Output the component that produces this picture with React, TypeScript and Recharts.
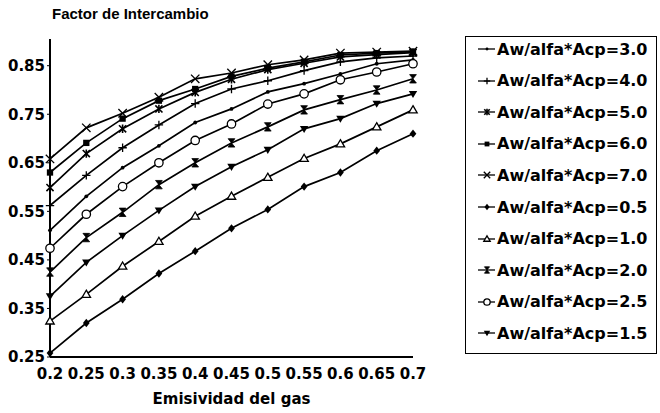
import React from 'react';
import { LineChart, Line, XAxis, YAxis, Legend } from 'recharts';

const emisividad = [0.2, 0.25, 0.3, 0.35, 0.4, 0.45, 0.5, 0.55, 0.6, 0.65, 0.7];
const xTicks = [0.2, 0.25, 0.3, 0.35, 0.4, 0.45, 0.5, 0.55, 0.6, 0.65, 0.7];
const yTicks = [0.25, 0.35, 0.45, 0.55, 0.65, 0.75, 0.85];

const rel30 = [0.511, 0.581, 0.640, 0.685, 0.733, 0.761, 0.796, 0.813, 0.833, 0.854, 0.862];
const rel40 = [0.562, 0.624, 0.681, 0.728, 0.772, 0.802, 0.819, 0.840, 0.858, 0.866, 0.870];
const rel50 = [0.599, 0.669, 0.720, 0.761, 0.795, 0.822, 0.842, 0.855, 0.868, 0.873, 0.877];
const rel60 = [0.630, 0.691, 0.741, 0.778, 0.802, 0.828, 0.845, 0.858, 0.872, 0.876, 0.879];
const rel70 = [0.658, 0.722, 0.752, 0.785, 0.823, 0.835, 0.852, 0.862, 0.876, 0.878, 0.880];
const rel05 = [0.258, 0.320, 0.369, 0.422, 0.468, 0.515, 0.554, 0.601, 0.630, 0.675, 0.710];
const rel10 = [0.324, 0.379, 0.437, 0.488, 0.540, 0.581, 0.620, 0.659, 0.689, 0.724, 0.759];
const rel20 = [0.425, 0.496, 0.548, 0.605, 0.650, 0.691, 0.724, 0.759, 0.780, 0.800, 0.823];
const rel25 = [0.474, 0.544, 0.601, 0.650, 0.696, 0.730, 0.771, 0.792, 0.821, 0.837, 0.854];
const rel15 = [0.375, 0.445, 0.500, 0.552, 0.601, 0.642, 0.677, 0.720, 0.741, 0.772, 0.792];

const seriesNames = [
  'Aw/alfa*Acp=3.0',
  'Aw/alfa*Acp=4.0',
  'Aw/alfa*Acp=5.0',
  'Aw/alfa*Acp=6.0',
  'Aw/alfa*Acp=7.0',
  'Aw/alfa*Acp=0.5',
  'Aw/alfa*Acp=1.0',
  'Aw/alfa*Acp=2.0',
  'Aw/alfa*Acp=2.5',
  'Aw/alfa*Acp=1.5',
];
const seriesValues = [rel30, rel40, rel50, rel60, rel70, rel05, rel10, rel20, rel25, rel15];
const seriesShapes = ['dot', 'plus', 'asterisk', 'square', 'x', 'diamond', 'triangle', 'hourglass', 'circle', 'triangleDown'];
const seriesKeys = ['s30', 's40', 's50', 's60', 's70', 's05', 's10', 's20', 's25', 's15'];

const data = emisividad.map((x, i) => {
  const row: Record<string, number> = { x };
  seriesKeys.forEach((k, j) => {
    row[k] = seriesValues[j][i];
  });
  return row;
});

const FONT = '"DejaVu Sans", "Liberation Sans", Arial, sans-serif';
const TITLE_FONT = '"Liberation Sans", Arial, sans-serif';

function marker(shape: string, cx: number, cy: number, s: number, key?: string) {
  const sw = 1.3;
  switch (shape) {
    case 'dot':
      return <circle key={key} cx={cx} cy={cy} r={s * 0.45} fill="#000" />;
    case 'plus':
      return (
        <g key={key} stroke="#000" strokeWidth={sw}>
          <line x1={cx - s} y1={cy} x2={cx + s} y2={cy} />
          <line x1={cx} y1={cy - s} x2={cx} y2={cy + s} />
        </g>
      );
    case 'asterisk':
      return (
        <g key={key} stroke="#000" strokeWidth={sw + 0.3}>
          <line x1={cx - s * 0.85} y1={cy - s * 0.85} x2={cx + s * 0.85} y2={cy + s * 0.85} />
          <line x1={cx - s * 0.85} y1={cy + s * 0.85} x2={cx + s * 0.85} y2={cy - s * 0.85} />
          <line x1={cx} y1={cy - s} x2={cx} y2={cy + s} />
        </g>
      );
    case 'x':
      return (
        <g key={key} stroke="#000" strokeWidth={sw}>
          <line x1={cx - s} y1={cy - s} x2={cx + s} y2={cy + s} />
          <line x1={cx - s} y1={cy + s} x2={cx + s} y2={cy - s} />
        </g>
      );
    case 'square':
      return <rect key={key} x={cx - s * 0.75} y={cy - s * 0.75} width={s * 1.5} height={s * 1.5} fill="#000" />;
    case 'diamond':
      return (
        <polygon
          key={key}
          points={`${cx},${cy - s} ${cx + s * 0.8},${cy} ${cx},${cy + s} ${cx - s * 0.8},${cy}`}
          fill="#000"
        />
      );
    case 'triangle':
      return (
        <polygon
          key={key}
          points={`${cx},${cy - s} ${cx + s},${cy + s * 0.7} ${cx - s},${cy + s * 0.7}`}
          fill="#fff"
          stroke="#000"
          strokeWidth={sw}
        />
      );
    case 'triangleDown':
      return (
        <polygon
          key={key}
          points={`${cx - s},${cy - s * 0.7} ${cx + s},${cy - s * 0.7} ${cx},${cy + s}`}
          fill="#000"
        />
      );
    case 'hourglass':
      return (
        <polygon
          key={key}
          points={`${cx - s * 0.8},${cy - s} ${cx + s * 0.8},${cy - s} ${cx},${cy} ${cx + s * 0.8},${cy + s} ${cx - s * 0.8},${cy + s} ${cx},${cy}`}
          fill="#000"
          stroke="#000"
          strokeWidth={0.8}
        />
      );
    case 'circle':
      return <circle key={key} cx={cx} cy={cy} r={s} fill="#fff" stroke="#000" strokeWidth={sw} />;
    default:
      return <g key={key} />;
  }
}

function makeDot(shape: string, id: string) {
  return (props: any) => {
    const { cx, cy, index } = props;
    if (cx == null || cy == null) return <g key={`${id}-${index}`} />;
    return marker(shape, cx, cy, 4.2, `${id}-${index}`);
  };
}

const renderLegend = () => (
  <div
    style={{
      position: 'relative',
      width: '100%',
      height: '100%',
      boxSizing: 'border-box',
      border: '1.5px solid #000',
      fontFamily: FONT,
      fontWeight: 'bold',
      fontSize: 16,
      color: '#000',
    }}
  >
    {seriesNames.map((name, i) => (
      <div
        key={name}
        style={{
          position: 'absolute',
          left: 10,
          top: 12 + i * 31.6 - 12,
          height: 24,
          display: 'flex',
          alignItems: 'center',
          whiteSpace: 'nowrap',
        }}
      >
        <svg width={20} height={14} style={{ display: 'block', marginRight: 1 }}>
          <line x1={2} y1={7} x2={19} y2={7} stroke="#000" strokeWidth={1.3} />
          {marker(seriesShapes[i], 11, 7, 3.2)}
        </svg>
        <span>{name}</span>
      </div>
    ))}
  </div>
);

const fmt = (v: number) => String(Number(v.toFixed(2)));

export default function App() {
  const tickStyle = { fill: '#000', fontSize: 15, fontWeight: 'bold', fontFamily: FONT };
  return (
    <div style={{ position: 'absolute', left: 0, top: 0, width: 660, height: 413, background: '#fff' }}>
      <div
        style={{
          position: 'absolute',
          left: 52,
          top: 5,
          fontFamily: TITLE_FONT,
          fontWeight: 'bold',
          fontSize: 15,
          color: '#000',
          whiteSpace: 'nowrap',
        }}
      >
        Factor de Intercambio
      </div>
      <LineChart width={660} height={413} data={data} margin={{ top: 39, right: 247, bottom: 0, left: 0 }}>
        <XAxis
          dataKey="x"
          type="number"
          domain={[0.2, 0.7]}
          ticks={xTicks}
          interval={0}
          tickFormatter={fmt}
          axisLine={{ stroke: '#000', strokeWidth: 2 }}
          tickLine={false}
          tick={tickStyle}
          tickMargin={5}
          height={56}
          label={{
            value: 'Emisividad del gas',
            position: 'insideBottom',
            offset: 9,
            fill: '#000',
            fontSize: 15,
            fontWeight: 'bold',
            fontFamily: FONT,
          }}
        />
        <YAxis
          type="number"
          domain={[0.25, 0.905]}
          ticks={yTicks}
          interval={0}
          tickFormatter={fmt}
          allowDataOverflow
          axisLine={{ stroke: '#000', strokeWidth: 2 }}
          tickLine={{ stroke: '#000' }}
          tickSize={3}
          tickMargin={2}
          tick={tickStyle}
          width={50}
        />
        <XAxis
          xAxisId="top"
          orientation="top"
          dataKey="x"
          type="number"
          domain={[0.2, 0.7]}
          tick={false}
          tickLine={false}
          height={0}
          axisLine={{ stroke: '#000', strokeWidth: 1.5 }}
        />
        <YAxis
          yAxisId="right"
          orientation="right"
          type="number"
          domain={[0.25, 0.905]}
          tick={false}
          tickLine={false}
          width={0}
          axisLine={{ stroke: '#000', strokeWidth: 2 }}
        />
        <Legend
          layout="vertical"
          align="center"
          verticalAlign="middle"
          content={renderLegend}
          wrapperStyle={{ position: 'absolute', left: 465, top: 36, width: 192, height: 318 }}
        />
        {seriesKeys.map((k, i) => (
          <Line
            key={k}
            dataKey={k}
            name={seriesNames[i]}
            stroke="#000"
            strokeWidth={1.7}
            dot={makeDot(seriesShapes[i], k)}
            activeDot={false}
            isAnimationActive={false}
            legendType="none"
          />
        ))}
      </LineChart>
    </div>
  );
}
